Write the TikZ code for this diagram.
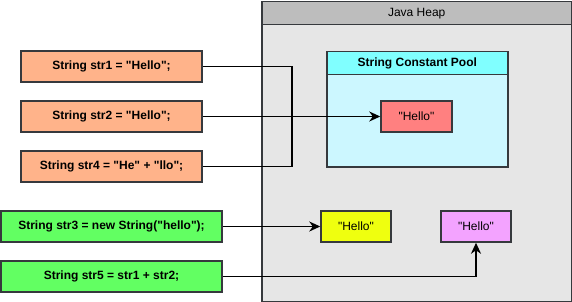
\documentclass[tikz,border=0pt]{standalone}
\usepackage{fontspec}
\setmainfont[Ligatures=TeXOff]{Liberation Sans}
\usetikzlibrary{arrows.meta}

\definecolor{edge}{HTML}{36393D}
\definecolor{heapfill}{HTML}{E6E6E6}
\definecolor{heaptop}{HTML}{BDBDBD}
\definecolor{poolfill}{HTML}{CCF7FF}
\definecolor{pooltop}{HTML}{80FFFF}
\definecolor{litfill}{HTML}{FFB38A}
\definecolor{newfill}{HTML}{62FF62}
\definecolor{hellored}{HTML}{FF8080}
\definecolor{helloyellow}{HTML}{EFFF0F}
\definecolor{hellopink}{HTML}{F3A3FF}

\begin{document}
\begin{tikzpicture}[x=1pt, y=-1pt,
    font=\fontsize{12}{14}\selectfont,
    box/.style={draw=edge, line width=1.5pt, inner sep=0pt},
    code/.style={box, minimum height=31pt, font=\fontsize{12}{14}\selectfont\bfseries},
    strobj/.style={box, minimum width=70pt, minimum height=31pt},
    link/.style={line width=1.8pt},
    ref/.style={link, -{Stealth[length=11pt, width=10pt, inset=3.5pt]}}]
    \useasboundingbox (0,0) rectangle (572,302);

    % Java heap
    \node[box, fill=heapfill, anchor=north west, minimum width=310pt, minimum height=300pt] (heap) at (261,1) {};
    \node[box, fill=heaptop, anchor=north west, minimum width=310pt, minimum height=23pt] (heaptitle) at (261,1) {Java Heap};

    % String constant pool
    \node[box, fill=poolfill, anchor=north west, minimum width=181pt, minimum height=115pt] (pool) at (326,51) {};
    \node[box, fill=pooltop, anchor=north west, minimum width=181pt, minimum height=23pt, font=\fontsize{12}{14}\selectfont\bfseries] (pooltitle) at (326,51) {String Constant Pool};

    % String objects
    \node[strobj, fill=hellored, minimum width=71pt] (hpool) at (416.5,116.5) {"Hello"};
    \node[strobj, fill=helloyellow] (hnew) at (356,226.5) {"Hello"};
    \node[strobj, fill=hellopink] (hconcat) at (476,226.5) {"Hello"};

    % Variables
    \node[code, fill=litfill, minimum width=181pt] (s1) at (111.5,66.5) {String str1 = "Hello";};
    \node[code, fill=litfill, minimum width=181pt] (s2) at (111.5,116.5) {String str2 = "Hello";};
    \node[code, fill=litfill, minimum width=181pt] (s4) at (111.5,166.5) {String str4 = "He" + "llo";};
    \node[code, fill=newfill, minimum width=221pt] (s3) at (111.5,226.5) {String str3 = new String("hello");};
    \node[code, fill=newfill, minimum width=221pt] (s5) at (111.5,276.5) {String str5 = str1 + str2;};

    % References
    \coordinate (join) at (292,116.5);
    \draw[link] (s1.east) -| (join) |- (s4.east);
    \draw[ref] (s2.east) -- (hpool.west);
    \draw[ref] (s3.east) -- (hnew.west);
    \draw[ref] (s5.east) -| (hconcat.south);
\end{tikzpicture}
\end{document}
